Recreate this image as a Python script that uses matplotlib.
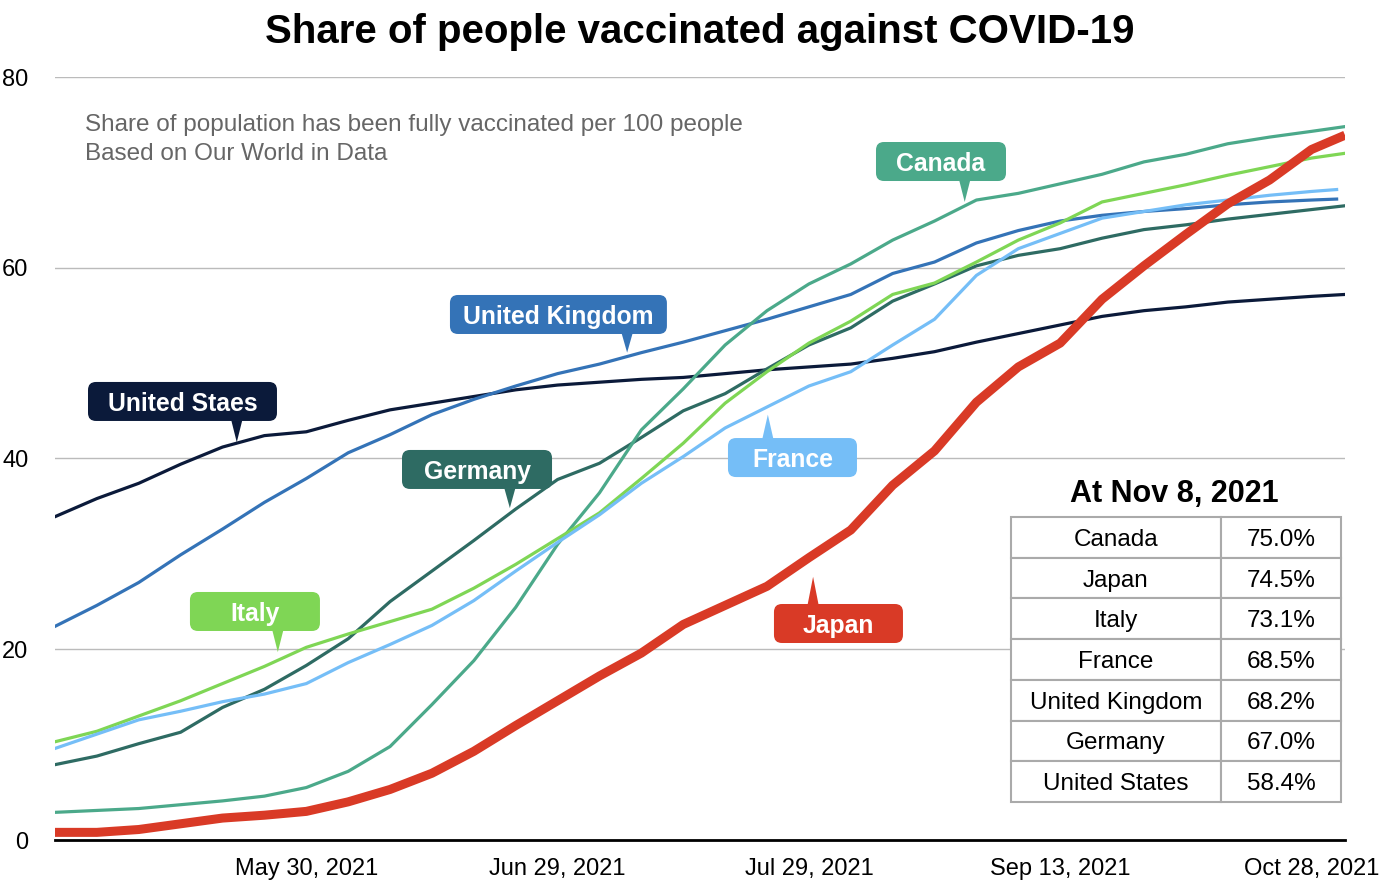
import numpy as np
import matplotlib
matplotlib.use('Agg')
import matplotlib.pyplot as plt
from matplotlib.patches import FancyBboxPatch, Polygon

plt.rcParams['font.family'] = ['Liberation Sans', 'DejaVu Sans']

# x positions are day indices on the chart's category axis
days = list(range(0, 151, 5)) + [154]
days_short = list(range(0, 151, 5)) + [153]   # UK and France stop one day earlier
tick_days = [30, 60, 90, 120, 150]
tick_labels = ['May 30, 2021', 'Jun 29, 2021', 'Jul 29, 2021',
               'Sep 13, 2021', 'Oct 28, 2021']

united_states = [33.9, 35.8, 37.4, 39.4, 41.2, 42.4, 42.8, 44.0, 45.1, 45.8,
                 46.5, 47.2, 47.7, 48.0, 48.3, 48.5, 48.9, 49.3, 49.6, 49.9,
                 50.5, 51.2, 52.2, 53.1, 54.0, 54.9, 55.5, 55.9, 56.4, 56.7,
                 57.0, 57.2]
united_kingdom = [22.4, 24.6, 27.0, 29.9, 32.6, 35.4, 37.9, 40.6, 42.5, 44.6,
                  46.2, 47.6, 48.9, 49.9, 51.1, 52.2, 53.4, 54.6, 55.9, 57.2,
                  59.4, 60.6, 62.6, 63.9, 64.9, 65.5, 65.9, 66.2, 66.6, 66.9,
                  67.1, 67.2]
canada = [2.9, 3.1, 3.3, 3.7, 4.1, 4.6, 5.5, 7.2, 9.8, 14.2,
          18.8, 24.4, 31.0, 36.4, 43.0, 47.3, 51.9, 55.5, 58.3, 60.4,
          62.9, 64.9, 67.1, 67.8, 68.8, 69.8, 71.1, 71.9, 73.0, 73.7,
          74.3, 74.8]
japan = [0.8, 0.8, 1.1, 1.7, 2.3, 2.6, 3.0, 4.0, 5.3, 7.0,
         9.3, 12.0, 14.6, 17.2, 19.6, 22.6, 24.6, 26.6, 29.6, 32.5,
         37.2, 40.8, 45.9, 49.6, 52.1, 56.7, 60.2, 63.5, 66.7, 69.2,
         72.4, 73.9]
germany = [7.9, 8.8, 10.1, 11.3, 13.9, 15.8, 18.3, 21.1, 25.0, 28.2,
           31.4, 34.7, 37.8, 39.5, 42.2, 45.0, 46.8, 49.4, 51.9, 53.7,
           56.5, 58.3, 60.2, 61.3, 62.0, 63.1, 64.0, 64.5, 65.1, 65.6,
           66.1, 66.5]
italy = [10.3, 11.4, 13.0, 14.6, 16.4, 18.2, 20.2, 21.6, 22.9, 24.2,
         26.4, 28.9, 31.6, 34.3, 37.9, 41.6, 45.8, 49.1, 52.1, 54.4,
         57.2, 58.4, 60.6, 62.9, 64.7, 66.9, 67.8, 68.7, 69.7, 70.6,
         71.5, 72.0]
france = [9.6, 11.1, 12.6, 13.5, 14.5, 15.3, 16.4, 18.6, 20.5, 22.5,
          25.1, 28.2, 31.2, 34.1, 37.4, 40.2, 43.2, 45.4, 47.6, 49.1,
          51.9, 54.6, 59.2, 62.0, 63.6, 65.2, 65.9, 66.6, 67.1, 67.6,
          68.0, 68.2]

table_countries = ['Canada', 'Japan', 'Italy', 'France', 'United Kingdom',
                   'Germany', 'United States']
table_shares = ['75.0%', '74.5%', '73.1%', '68.5%', '68.2%', '67.0%', '58.4%']

colors = {
    'us': '#0b1a3a',
    'uk': '#3473b7',
    'germany': '#2e6b63',
    'canada': '#4ba98a',
    'italy': '#7fd655',
    'france': '#75bef7',
    'japan': '#d93a26',
}

fig = plt.figure(figsize=(13.82, 8.8), dpi=100)
ax = fig.add_axes([55/1382, 40/880, 1290/1382, 763/880])

ax.plot(days, united_states, color=colors['us'], lw=2.3, zorder=3)
ax.plot(days_short, united_kingdom, color=colors['uk'], lw=2.3, zorder=3)
ax.plot(days, germany, color=colors['germany'], lw=2.3, zorder=3)
ax.plot(days, canada, color=colors['canada'], lw=2.3, zorder=3)
ax.plot(days, italy, color=colors['italy'], lw=2.3, zorder=3)
ax.plot(days_short, france, color=colors['france'], lw=2.3, zorder=3)
ax.plot(days, japan, color=colors['japan'], lw=6.5, zorder=4,
        solid_capstyle='butt')

ax.set_xlim(0, 154)
ax.set_ylim(0, 80)
ax.set_yticks([0, 20, 40, 60, 80])
ax.set_xticks(tick_days)
ax.set_xticklabels(tick_labels)
ax.tick_params(axis='y', length=0, pad=19, labelsize=17)
ax.tick_params(axis='x', length=0, pad=13, labelsize=17)
ax.grid(axis='y', color='#bbbbbb', lw=1)
ax.set_axisbelow(True)
for s in ['left', 'right', 'top']:
    ax.spines[s].set_visible(False)
ax.spines['bottom'].set_linewidth(2)
ax.spines['bottom'].set_color('black')
ax.spines['bottom'].set_zorder(5)

fig.text(0.506, 1 - 28/880, 'Share of people vaccinated against COVID-19',
         ha='center', va='center_baseline', fontsize=29, fontweight='bold')
ax.text(0.0233, 0.937,
        'Share of population has been fully vaccinated per 100 people',
        transform=ax.transAxes, ha='left', va='center', fontsize=17.5,
        color='#666666')
ax.text(0.0233, 0.899, 'Based on Our World in Data',
        transform=ax.transAxes, ha='left', va='center', fontsize=17.5,
        color='#666666')

# callouts: label, box centre, box width, tip of pointer, which side
aspect = 8.377 / 9.5375
callouts = [
    ('United Staes', 'us', 15.22, 45.98, 22.56, 21.7, 41.7, 'bottom'),
    ('United Kingdom', 'uk', 60.10, 55.10, 25.90, 68.3, 51.1, 'bottom'),
    ('Germany', 'germany', 50.38, 38.85, 17.91, 54.3, 34.8, 'bottom'),
    ('Canada', 'canada', 105.77, 71.14, 15.52, 108.6, 66.9, 'bottom'),
    ('Italy', 'italy', 23.87, 23.96, 15.52, 26.6, 19.7, 'bottom'),
    ('France', 'france', 88.04, 40.10, 15.40, 85.1, 44.6, 'top'),
    ('Japan', 'japan', 93.53, 22.70, 15.40, 90.5, 27.6, 'top'),
]
box_h = 4.09
for label, key, cx, cy, w, tx, ty, side in callouts:
    c = colors[key]
    box = FancyBboxPatch((cx - w/2, cy - box_h/2), w, box_h,
                         boxstyle='round,pad=0,rounding_size=0.95',
                         mutation_aspect=aspect, fc=c, ec='none', zorder=6)
    ax.add_patch(box)
    if side == 'bottom':
        base_y = cy - box_h/2 + 0.05
    else:
        base_y = cy + box_h/2 - 0.05
    tri = Polygon([(tx - 0.65, base_y), (tx + 0.65, base_y), (tx, ty)],
                  closed=True, fc=c, ec='none', zorder=6)
    ax.add_patch(tri)
    ax.text(cx, cy, label, ha='center', va='center_baseline', color='white',
            fontsize=17.8, fontweight='bold', zorder=7)

# summary table
ax.text(0.868, 0.4587, 'At Nov 8, 2021', transform=ax.transAxes,
        ha='center', va='center_baseline', fontsize=22, fontweight='bold',
        zorder=8)
cells = [[n, v] for n, v in zip(table_countries, table_shares)]
tbl = ax.table(cellText=cells, cellLoc='center', colWidths=[0.636, 0.364],
               bbox=[0.7411, 0.0498, 0.2558, 0.3735])
tbl.set_zorder(8)
tbl.auto_set_font_size(False)
tbl.set_fontsize(17.5)
for cell in tbl.get_celld().values():
    cell.set_edgecolor('#aaaaaa')
    cell.set_linewidth(1.5)
    cell.set_facecolor('white')
    cell.get_text().set_va('center_baseline')

fig.savefig('out.png', dpi=100)
